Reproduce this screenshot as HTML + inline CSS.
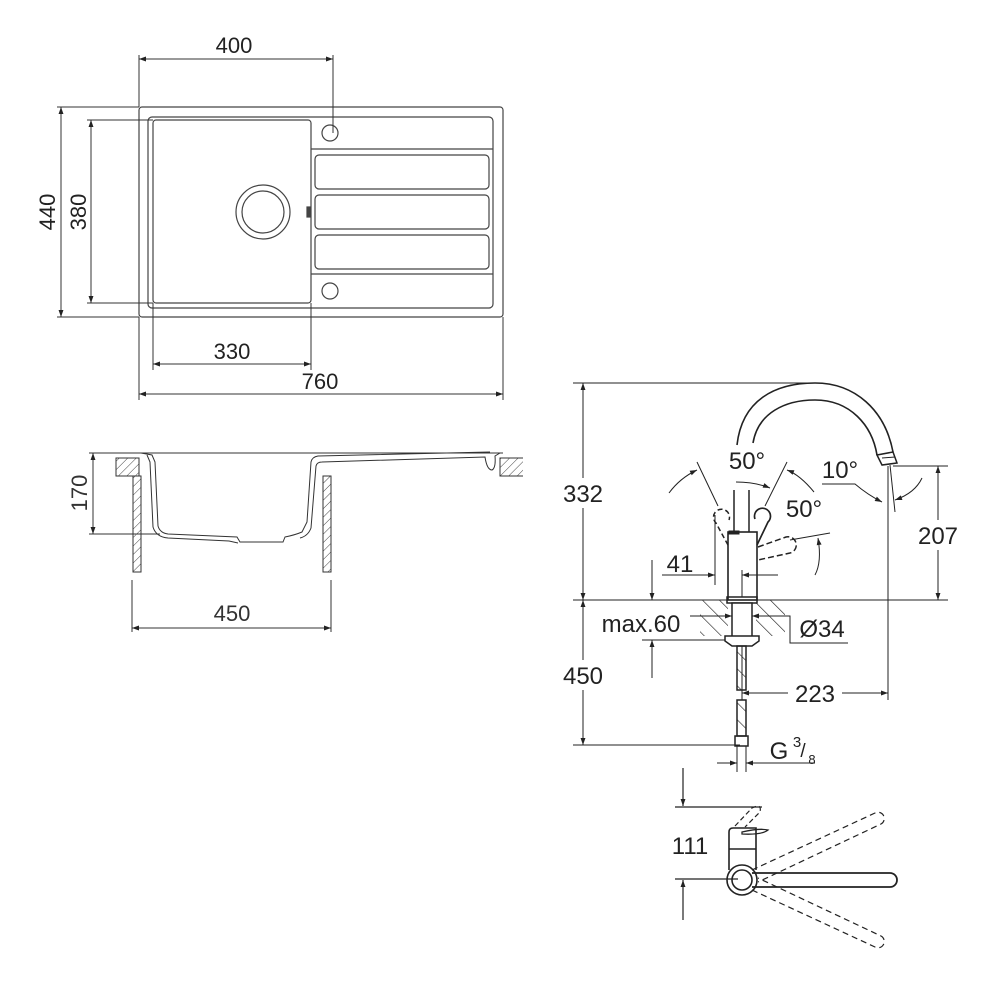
<!DOCTYPE html>
<html><head><meta charset="utf-8"><style>
html,body{margin:0;padding:0;background:#fff;}
svg{display:block}
text{font-family:"Liberation Sans","DejaVu Sans",sans-serif;fill:#222;}
</style></head><body>
<svg width="1000" height="1000" viewBox="0 0 1000 1000" xmlns="http://www.w3.org/2000/svg">
<defs>
<marker id="a" viewBox="0 0 10 10" refX="10" refY="5" markerWidth="9" markerHeight="7" orient="auto-start-reverse" markerUnits="userSpaceOnUse"><path d="M0,1.5 L10,5 L0,8.5z" fill="#222"/></marker>
<pattern id="h" width="6" height="6" patternUnits="userSpaceOnUse" patternTransform="rotate(45)"><line x1="0" y1="0" x2="0" y2="6" stroke="#444" stroke-width="1"/></pattern>
<pattern id="h2" width="12" height="12" patternUnits="userSpaceOnUse" patternTransform="rotate(-45)"><line x1="0" y1="0" x2="0" y2="12" stroke="#222" stroke-width="1.3"/></pattern>
</defs>
<g fill="none" stroke="#444" stroke-width="1.2">
<rect x="139" y="107" width="364" height="210" rx="3"/>
<rect x="148" y="117" width="345" height="191" rx="4"/>
<rect x="153" y="120" width="158" height="183" rx="3"/>
<circle cx="263" cy="212" r="27"/><circle cx="263" cy="212" r="21"/>
<rect x="307" y="207" width="3" height="10" fill="#444"/>
<circle cx="330" cy="133" r="8"/><circle cx="330" cy="291" r="8"/>
<line x1="311" y1="149" x2="493" y2="149"/><line x1="311" y1="274" x2="493" y2="274"/>
<rect x="315" y="155" width="174" height="34" rx="4"/>
<rect x="315" y="195" width="174" height="34" rx="4"/>
<rect x="315" y="235" width="174" height="34" rx="4"/>
</g>
<g stroke="#333" stroke-width="1" fill="none">
<line x1="139" y1="55" x2="139" y2="107"/><line x1="333" y1="55" x2="333" y2="133"/>
<line x1="139" y1="59" x2="333" y2="59" marker-start="url(#a)" marker-end="url(#a)"/>
<line x1="57" y1="107" x2="139" y2="107"/><line x1="57" y1="317" x2="139" y2="317"/>
<line x1="61" y1="107" x2="61" y2="317" marker-start="url(#a)" marker-end="url(#a)"/>
<line x1="87" y1="120" x2="153" y2="120"/><line x1="87" y1="303" x2="153" y2="303"/>
<line x1="91" y1="120" x2="91" y2="303" marker-start="url(#a)" marker-end="url(#a)"/>
<line x1="153" y1="303" x2="153" y2="370"/><line x1="311" y1="303" x2="311" y2="370"/>
<line x1="153" y1="364" x2="311" y2="364" marker-start="url(#a)" marker-end="url(#a)"/>
<line x1="139" y1="317" x2="139" y2="400"/><line x1="503" y1="317" x2="503" y2="400"/>
<line x1="139" y1="394" x2="503" y2="394" marker-start="url(#a)" marker-end="url(#a)"/>
</g>
<g font-size="22" text-anchor="middle" style="fill:#333">
<text x="234" y="53">400</text>
<text x="232" y="359">330</text>
<text x="320" y="389">760</text>
<text transform="translate(55,212) rotate(-90)">440</text>
<text transform="translate(86,212) rotate(-90)">380</text>
</g>
<g stroke="#333" stroke-width="1" fill="none">
<line x1="89" y1="453" x2="503" y2="453"/>
<line x1="89" y1="534" x2="160" y2="534"/>
<line x1="93" y1="453" x2="93" y2="534" marker-start="url(#a)" marker-end="url(#a)"/>
<rect x="116" y="458" width="23" height="18" fill="url(#h)"/>
<rect x="133" y="476" width="8" height="96" fill="url(#h)"/>
<rect x="323" y="476" width="8" height="96" fill="url(#h)"/>
<path d="M523,458 L500,458 L500,476 L523,476" fill="url(#h)"/>
<line x1="132" y1="580" x2="132" y2="632"/><line x1="331" y1="580" x2="331" y2="632"/>
<line x1="132" y1="628" x2="331" y2="628" marker-start="url(#a)" marker-end="url(#a)"/>
<path d="M141,453 L152,455 L155,462 L158,526 Q160,533 168,534 L237,537 L240,542 L283,542 L285,537 Q295,535 302,532 L307,522 L311,462 Q312,457 318,456 L490,452"/>
<path d="M147,455 L150,462 L153,527 Q156,537 168,538 L229,541 L238,543"/>
<path d="M300,538 Q308,536 311,528 L316,466 Q317,462 322,462 L485,457 Q487,470 492,470 Q496,468 495,456 L500,453"/>
</g>
<text x="232" y="621" font-size="22" text-anchor="middle" style="fill:#333">450</text>
<text transform="translate(87,493) rotate(-90)" font-size="22" text-anchor="middle" style="fill:#333">170</text>
<g stroke="#222" stroke-width="1" fill="none">
<line x1="573" y1="383" x2="815" y2="383"/>
<line x1="573" y1="600" x2="948" y2="600"/>
<line x1="573" y1="745" x2="740" y2="745"/>
<line x1="583" y1="383" x2="583" y2="600" marker-start="url(#a)" marker-end="url(#a)"/>
<line x1="583" y1="600" x2="583" y2="745" marker-start="url(#a)" marker-end="url(#a)"/>
<line x1="893" y1="466" x2="948" y2="466"/>
<line x1="938" y1="466" x2="938" y2="600" marker-start="url(#a)" marker-end="url(#a)"/>
<line x1="888" y1="466" x2="888" y2="700"/>
<line x1="742" y1="693" x2="888" y2="693" marker-start="url(#a)" marker-end="url(#a)"/>
<line x1="742" y1="570" x2="742" y2="700"/>
<line x1="715" y1="515" x2="715" y2="585"/>
<line x1="662" y1="575" x2="715" y2="575" marker-end="url(#a)"/>
<line x1="778" y1="575" x2="742" y2="575" marker-end="url(#a)"/>
<line x1="652" y1="560" x2="652" y2="600" marker-end="url(#a)"/>
<line x1="652" y1="678" x2="652" y2="640" marker-end="url(#a)"/>
<line x1="642" y1="640" x2="735" y2="640"/>
<line x1="690" y1="616" x2="732" y2="616" marker-end="url(#a)"/>
<line x1="780" y1="616" x2="752" y2="616" marker-end="url(#a)"/>
<path d="M780,616 L790,616 L790,643 L848,643"/>
<path d="M700,600 H728 V636 H700z" fill="url(#h2)" stroke="none"/>
<path d="M756,600 H785 V636 H756z" fill="url(#h2)" stroke="none"/>
<rect x="727" y="597" width="30" height="6" stroke-width="1.5" fill="#fff"/>
<rect x="732" y="603" width="20" height="34" stroke-width="1.5" fill="#fff"/>
<path d="M725,636 H759 V641 L752,646 H732 L725,641z" stroke-width="1.5" fill="#fff"/>
<rect x="737" y="646" width="9" height="44" fill="url(#h2)" stroke-width="1.5"/>
<rect x="737" y="700" width="9" height="36" fill="url(#h2)" stroke-width="1.5"/>
<rect x="735" y="736" width="13" height="10" stroke-width="1.5"/>
<line x1="737" y1="746" x2="737" y2="772"/><line x1="746" y1="746" x2="746" y2="772"/>
<line x1="717" y1="763" x2="737" y2="763" marker-end="url(#a)"/>
<line x1="770" y1="763" x2="746" y2="763" marker-end="url(#a)"/>
<line x1="746" y1="763" x2="815" y2="763"/>
<rect x="728" y="532" width="29" height="68" stroke-width="1.6"/>
<rect x="729" y="531" width="10" height="3" fill="#222"/>
<line x1="734" y1="490" x2="734" y2="532" stroke-width="1.5"/>
<line x1="749" y1="490" x2="749" y2="532" stroke-width="1.5"/>
<path d="M728,545 L716,523 A8,8 0 1 1 729,520" stroke-width="1.5" stroke-dasharray="5,3"/>
<path d="M757,545 L768,522 A8,8 0 1 0 755,519" stroke-width="1.7"/>
<path d="M758,547 L786,537 A8,8 0 1 1 790,553 L758,560" stroke-width="1.5" stroke-dasharray="6,3"/>
<line x1="697" y1="462" x2="718" y2="506"/>
<line x1="787" y1="462" x2="765" y2="506"/>
<line x1="790" y1="540" x2="830" y2="533"/>
<path d="M669,493 Q680,478 697,470" marker-end="url(#a)"/>
<path d="M736,482 Q755,482 770,488" marker-end="url(#a)"/>
<path d="M814,492 Q800,475 787,470" marker-end="url(#a)"/>
<path d="M815,575 Q822,562 818,538" marker-end="url(#a)"/>
<path d="M737,445 C742,400 775,383 815,383 C855,383 885,410 893,452" stroke-width="1.6"/>
<path d="M753,443 C758,413 785,400 815,400 C850,400 872,425 877,455" stroke-width="1.6"/>
<path d="M877,455 L893,452 L897,463 L882,465 Z" stroke-width="1.5"/>
<line x1="882" y1="458" x2="895" y2="457"/>
<line x1="890" y1="465" x2="895" y2="512"/>
<path d="M822,484 H855 Q868,495 882,502" marker-end="url(#a)"/>
<path d="M922,478 Q915,493 895,500" marker-end="url(#a)"/>
</g>
<g font-size="24" text-anchor="middle">
<rect x="558" y="478" width="50" height="30" fill="#fff"/>
<text x="583" y="502">332</text>
<rect x="558" y="660" width="50" height="30" fill="#fff"/>
<text x="583" y="684">450</text>
<rect x="913" y="520" width="50" height="30" fill="#fff"/>
<text x="938" y="544">207</text>
<rect x="788" y="679" width="54" height="28" fill="#fff"/>
<text x="815" y="702">223</text>
<text x="680" y="572">41</text>
<text x="641" y="632">max.60</text>
<text x="822" y="637">Ø34</text>
<text x="747" y="469">50°</text>
<text x="804" y="517">50°</text>
<text x="840" y="478">10°</text>
<text x="779" y="759">G</text>
<text x="797" y="747" font-size="15">3</text>
<text x="803" y="757" font-size="19">/</text>
<text x="812" y="764" font-size="13">8</text>
<text x="690" y="854">111</text>
</g>
<g stroke="#222" stroke-width="1.2" fill="none">
<line x1="683" y1="768" x2="683" y2="806" marker-end="url(#a)"/>
<line x1="675" y1="807" x2="762" y2="807"/>
<line x1="675" y1="879" x2="738" y2="879"/>
<line x1="683" y1="920" x2="683" y2="880" marker-end="url(#a)"/>
<path d="M729,870 V832 Q729,828 733,828 H756 V870" stroke-width="1.6"/>
<line x1="729" y1="849" x2="756" y2="849" stroke-width="1.5"/>
<path d="M742,832 Q760,828 768,830 Q762,835 742,834z" stroke-width="1.3"/>
<path d="M735,826 L752,808 Q762,803 760,812 L745,827" stroke-dasharray="5,3"/>
<circle cx="742" cy="880" r="15" stroke-width="1.6"/>
<circle cx="742" cy="880" r="10" stroke-width="1.6"/>
<path d="M752,873 H890 A7,7 0 0 1 890,887 H752" stroke-width="1.8"/>
<path d="M752,870 L875,813 A6,6 0 0 1 881,824 L758,882" stroke-dasharray="6,4"/>
<path d="M752,890 L875,947 A6,6 0 0 0 881,936 L758,878" stroke-dasharray="6,4"/>
</g>
</svg>
</body></html>
